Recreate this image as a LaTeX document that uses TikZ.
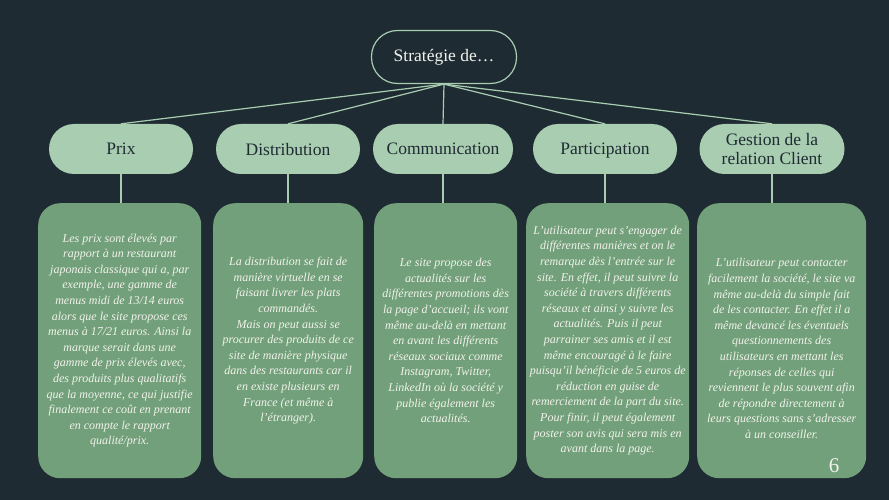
\documentclass[tikz,border=0pt]{standalone}
\usepackage{fontspec}
\setmainfont{Liberation Serif}
\definecolor{bg}{HTML}{1F2B33}
\definecolor{pill}{HTML}{A9CDB1}
\definecolor{boxc}{HTML}{72A07A}
\definecolor{txt}{HTML}{F2F2EC}
\begin{document}
\begin{tikzpicture}[x=1pt,y=-1pt,
  pillbox/.style={draw=none,fill=pill,rounded corners=25pt,minimum height=50pt,text=bg,font=\fontsize{17.5}{19.5}\selectfont,align=center,inner sep=2pt,text depth=0pt},
  textbox/.style={fill=boxc,rounded corners=22pt,anchor=north west,inner sep=0pt},
  conn/.style={draw=pill,line width=1.2pt}]
\fill[bg] (0,0) rectangle (889,500);
\useasboundingbox (0,0) rectangle (889,500);
\node[draw=pill,line width=1.2pt,fill=bg,rounded corners=26pt,minimum width=145pt,minimum height=53pt,text=txt,font=\fontsize{17.5}{19}\selectfont] (top) at (444,57) {Stratégie de\dots};
\node[pillbox,minimum width=144pt] (p1) at (121,149) {Prix};
\node[pillbox,minimum width=144pt] (p2) at (288,149) {Distribution};
\node[pillbox,minimum width=140pt] (p3) at (443,149) {Communication};
\node[pillbox,minimum width=144pt] (p4) at (605,149) {Participation};
\node[pillbox,minimum width=145pt] (p5) at (772,149) {Gestion de la\\relation Client};
\foreach \i in {1,...,5}{\draw[conn] (top.south) -- (p\i.north);}
\node[textbox,minimum width=163pt,minimum height=275pt] (b1) at (38,203) {};
\node[textbox,minimum width=150pt,minimum height=275pt] (b2) at (213,203) {};
\node[textbox,minimum width=143pt,minimum height=275pt] (b3) at (374,203) {};
\node[textbox,minimum width=163pt,minimum height=275pt] (b4) at (526,203) {};
\node[textbox,minimum width=169pt,minimum height=275pt] (b5) at (697,203) {};
\draw[conn] (p1.south) -- (p1.south |- b1.north);
\draw[conn] (p2.south) -- (p2.south |- b2.north);
\draw[conn] (p3.south) -- (p3.south |- b3.north);
\draw[conn] (p4.south) -- (p4.south |- b4.north);
\draw[conn] (p5.south) -- (p5.south |- b5.north);
\tikzset{tx/.style={text=txt,font=\fontsize{12}{15.6}\selectfont\itshape,align=center,inner sep=0pt}}
\node[tx] (t1) at (b1.center) {Les prix sont élevés par\\rapport à un restaurant\\japonais classique qui a, par\\exemple, une gamme de\\menus midi de 13/14 euros\\alors que le site propose ces\\menus à 17/21 euros. Ainsi la\\marque serait dans une\\gamme de prix élevés avec,\\des produits plus qualitatifs\\que la moyenne, ce qui justifie\\finalement ce coût en prenant\\en compte le rapport\\qualité/prix.};
\node[tx] (t2) at (b2.center) {La distribution se fait de\\manière virtuelle en se\\faisant livrer les plats\\commandés.\\Mais on peut aussi se\\procurer des produits de ce\\site de manière physique\\dans des restaurants car il\\en existe plusieurs en\\France (et même à\\l'étranger).};
\node[tx] (t3) at (b3.center) {Le site propose des\\actualités sur les\\différentes promotions dès\\la page d'accueil; ils vont\\même au-delà en mettant\\en avant les différents\\réseaux sociaux comme\\Instagram, Twitter,\\LinkedIn où la société y\\publie également les\\actualités.};
\node[tx] (t4) at (b4.center) {L'utilisateur peut s'engager de\\différentes manières et on le\\remarque dès l'entrée sur le\\site. En effet, il peut suivre la\\société à travers différents\\réseaux et ainsi y suivre les\\actualités. Puis il peut\\parrainer ses amis et il est\\même encouragé à le faire\\puisqu'il bénéficie de 5 euros de\\réduction en guise de\\remerciement de la part du site.\\Pour finir, il peut également\\poster son avis qui sera mis en\\avant dans la page.};
\node[tx] (t5) at ([yshift=-8pt]b5.center) {L'utilisateur peut contacter\\facilement la société, le site va\\même au-delà du simple fait\\de les contacter. En effet il a\\même devancé les éventuels\\questionnements des\\utilisateurs en mettant les\\réponses de celles qui\\reviennent le plus souvent afin\\de répondre directement à\\leurs questions sans s'adresser\\à un conseiller.};
\node[text=txt,font=\fontsize{21}{22}\selectfont] (num) at (834,466) {6};
\end{tikzpicture}
\end{document}
